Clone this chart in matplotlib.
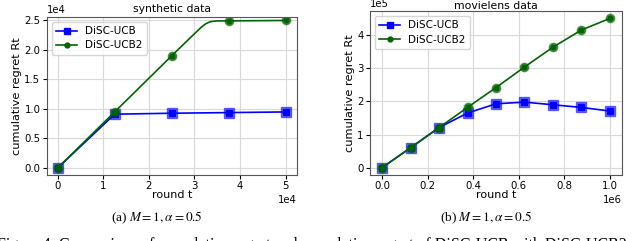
import numpy as np
import matplotlib
matplotlib.use("Agg")
import matplotlib.pyplot as plt

# synthetic data panel
syn_t = [0, 12500, 25000, 37500, 50000]
syn_ucb = [0, 9100, 9260, 9370, 9480]
syn_t2 = [0, 12500, 25000, 30000, 31500, 32500, 33500, 35000, 37500, 50000]
syn_ucb2 = [0, 9480, 18960, 22700, 23800, 24400, 24750, 24880, 24880, 24950]
syn_marks2 = [0, 1, 2, 8, 9]

# movielens panel
mov_t = [0, 125000, 250000, 375000, 500000, 625000, 750000, 875000, 1000000]
mov_ucb = [0, 60000, 121000, 165000, 193000, 198000, 190000, 182000, 171000]
mov_ucb2 = [0, 60000, 121000, 182000, 242000, 304000, 364000, 416000, 451000]

plt.rcParams["font.size"] = 7.3
fig = plt.figure(figsize=(6.4, 2.41), dpi=100)

ax1 = fig.add_axes([0.073, 0.274, 0.391, 0.656])
ax2 = fig.add_axes([0.578, 0.274, 0.394, 0.68])

def panel(ax, t1, y1, m1, t2, y2, m2, title, tpad):
    ax.plot(t1, y1, color="blue", lw=1.2, marker="s", ms=4, markevery=m1, label="DiSC-UCB")
    ax.plot([t1[i] for i in m1], [y1[i] for i in m1], ls="none", marker="s", ms=7,
            color="blue", alpha=0.55)
    ax.plot(t2, y2, color="darkgreen", lw=1.2, marker="o", ms=3.5, markevery=m2, label="DiSC-UCB2")
    ax.plot([t2[i] for i in m2], [y2[i] for i in m2], ls="none", marker="o", ms=6,
            color="darkgreen", alpha=0.6)
    ax.grid(True, color="#d9d9d9", lw=0.8)
    ax.set_axisbelow(True)
    ax.ticklabel_format(style="sci", axis="both", scilimits=(0, 0))
    ax.set_xlabel("round t", labelpad=-1, fontsize=8)
    ax.set_ylabel("cumulative regret Rt", labelpad=2, fontsize=8.2)
    ax.set_title(title, pad=tpad, fontsize=7.8)
    ax.tick_params(length=3, pad=1.5)
    for s in ax.spines.values():
        s.set_color("#555555")
    ax.legend(loc="upper left", fontsize=7.5, handlelength=2.0, borderpad=0.4, labelspacing=0.4)

panel(ax1, syn_t, syn_ucb, list(range(len(syn_t))), syn_t2, syn_ucb2, syn_marks2,
      "synthetic data", 3.5)
ax1.set_xticks([0, 10000, 20000, 30000, 40000, 50000])
ax1.set_yticks([0, 5000, 10000, 15000, 20000, 25000])
ax1.set_xlim(-2400, 52500)
ax1.set_ylim(-1180, 25560)

panel(ax2, mov_t, mov_ucb, list(range(len(mov_t))), mov_t, mov_ucb2, list(range(len(mov_t))),
      "movielens data", 1.5)
ax2.set_xticks([0, 200000, 400000, 600000, 800000, 1000000])
ax2.set_yticks([0, 100000, 200000, 300000, 400000])
ax2.set_xlim(-53000, 1053000)
ax2.set_ylim(-22000, 473000)

fig.text(0.245, 0.095, r"(a) $M = 1, \alpha = 0.5$", ha="center", va="center",
         family="Liberation Serif", fontsize=9.5, math_fontfamily="stix")
fig.text(0.76, 0.095, r"(b) $M = 1, \alpha = 0.5$", ha="center", va="center",
         family="Liberation Serif", fontsize=9.5, math_fontfamily="stix")
fig.text(-0.005, 0.018, "Figure 4: Comparison of cumulative regret and cumulative regret of DiSC-UCB with DiSC-UCB2",
         ha="left", va="top", family="Liberation Serif", fontsize=11.5)

fig.savefig("out.png", dpi=100)
